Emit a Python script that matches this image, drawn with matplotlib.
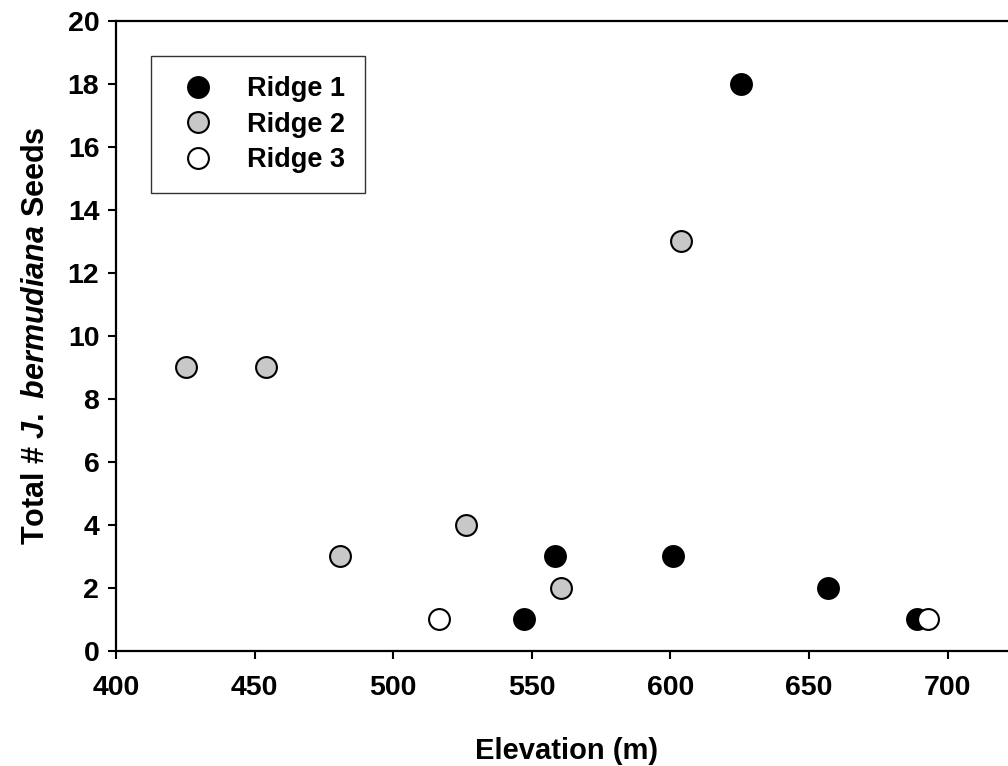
import numpy as np
import matplotlib
matplotlib.use("Agg")
import matplotlib.pyplot as plt

plt.rcParams['font.family'] = ['Liberation Sans', 'DejaVu Sans']
plt.rcParams['font.weight'] = 'bold'
plt.rcParams['mathtext.fontset'] = 'custom'
plt.rcParams['mathtext.it'] = 'Liberation Sans:italic:bold'
plt.rcParams['mathtext.rm'] = 'Liberation Sans:bold'

# elevation (m) and seed counts for each ridge
ridge1_elev = [625.5, 558.4, 547.2, 600.8, 656.7, 688.8]
ridge1_seeds = [18, 3, 1, 3, 2, 1]
ridge2_elev = [425.3, 454.0, 480.8, 526.3, 560.5, 604.0]
ridge2_seeds = [9, 9, 3, 4, 2, 13]
ridge3_elev = [516.5, 692.9]
ridge3_seeds = [1, 1]

series = [("Ridge 1", ridge1_elev, ridge1_seeds, "black"),
          ("Ridge 2", ridge2_elev, ridge2_seeds, "#c8c8c8"),
          ("Ridge 3", ridge3_elev, ridge3_seeds, "white")]

xticks = [400, 450, 500, 550, 600, 650, 700]
yticks = list(range(0, 21, 2))

fig = plt.figure(figsize=(10.08, 7.66), dpi=100)
W, H = 1008, 766
# the original is cropped on the right, so the axes run just past the figure edge
ax = fig.add_axes([116/W, (H-651)/H, 325*2.772/W, (651-20.7)/H])

for name, xs, ys, col in series:
    ax.plot(xs, ys, 'o', ls='none', ms=15, mfc=col, mec='black', mew=1.5,
            label=name, clip_on=False, zorder=3)

ax.set_xlim(400, 725)
ax.set_ylim(0, 20)
ax.set_xticks(xticks)
ax.set_yticks(yticks)
for s in ax.spines.values():
    s.set_linewidth(1.6)
ax.tick_params(direction='out', length=6, width=1.5, labelsize=20.5)
ax.tick_params(axis='x', pad=11)
ax.tick_params(axis='y', pad=6)

ax.set_xlabel("Elevation (m)", fontsize=21, fontweight='bold', labelpad=26)
ax.set_ylabel(r"Total # $\mathit{J.\ bermudiana}$ Seeds", fontsize=22,
              fontweight='bold', labelpad=12)

leg = ax.legend(loc='upper left', bbox_to_anchor=(151/W, 1-56/H),
                bbox_transform=fig.transFigure, borderaxespad=0,
                fontsize=19.5, frameon=True, fancybox=False, handlelength=2.0,
                handletextpad=0.8, borderpad=0.74, labelspacing=0.35)
leg.get_frame().set_edgecolor('black')
leg.get_frame().set_linewidth(1.0)

plt.savefig("out.png", dpi=100)
